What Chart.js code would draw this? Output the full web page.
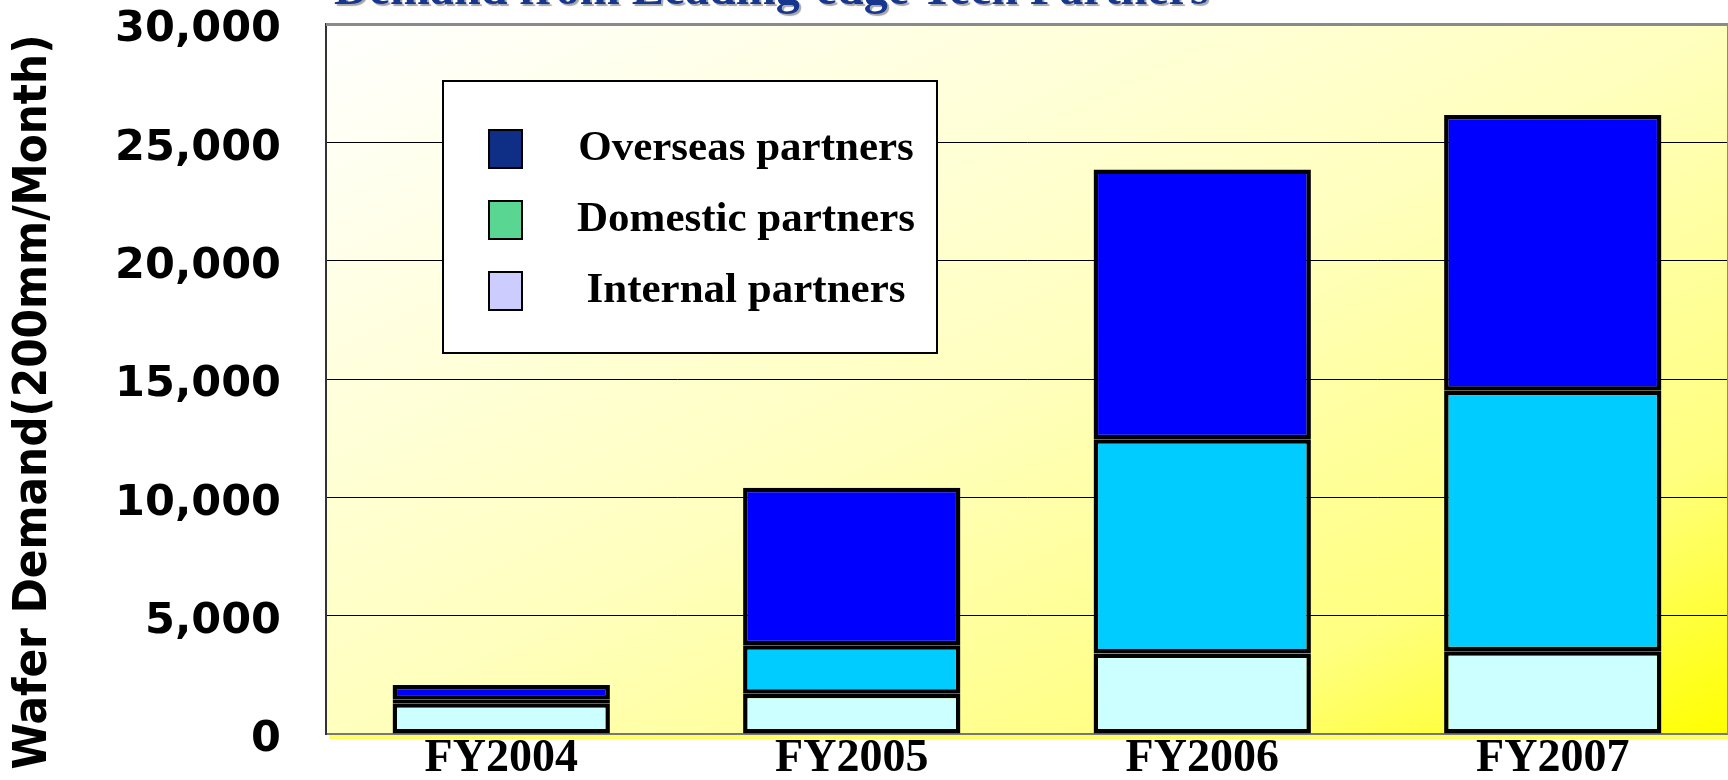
<!DOCTYPE html>
<html>
<head>
<meta charset="utf-8">
<script src="https://cdn.jsdelivr.net/npm/chart.js@4.4.1/dist/chart.umd.min.js"></script>
<style>
html,body{margin:0;padding:0;background:#fff;}
#wrap{width:1728px;height:780px;position:relative;}
</style>
</head>
<body>
<div id="wrap"><canvas id="c" width="1728" height="780"></canvas></div>
<script>
// ---- data ----
const categories = ['FY2004', 'FY2005', 'FY2006', 'FY2007'];
const internalPartners = [1300, 1700, 3400, 3500];
const domesticPartners = [150, 2050, 9050, 11000];
const overseasPartners = [620, 6650, 11400, 11650];
const yTickValues = [0, 5000, 10000, 15000, 20000, 25000, 30000];
const legendNames = ['Overseas partners', 'Domestic partners', 'Internal partners'];
const legendSwatches = ['#0F2F86', '#5AD693', '#CCCCFF'];
const chartTitle = 'Demand from Leading-edge Tech Partners';
const yAxisTitle = 'Wafer Demand(200mm/Month)';

// ---- plugins (layout / decoration only) ----
const decor = {
  id: 'decor',
  afterLayout(chart) {
    const lg = chart.legend;
    if (lg) {
      lg.left = 461; lg.right = 948.5; lg.top = 99.5; lg.bottom = 354;
      lg.width = lg.right - lg.left; lg.height = lg.bottom - lg.top;
      if (!lg._wrapped) {
        const orig = lg.draw.bind(lg);
        lg.draw = function () {
          const ctx = chart.ctx;
          ctx.save();
          ctx.fillStyle = '#FFFFFF';
          ctx.fillRect(442, 80, 496, 274);
          ctx.strokeStyle = '#000000';
          ctx.lineWidth = 2;
          ctx.strokeRect(443, 81, 494, 272);
          ctx.restore();
          orig();
        };
        lg._wrapped = true;
      }
    }
    const tb = chart.titleBlock;
    if (tb) {
      tb.left = chart.chartArea.left + 8;
      if (!tb._wrapped) {
        const origT = tb.draw.bind(tb);
        tb.draw = function () {
          const ctx = chart.ctx;
          ctx.save();
          ctx.shadowColor = 'rgba(0,0,0,0.35)';
          ctx.shadowOffsetX = 2;
          ctx.shadowOffsetY = 2;
          ctx.shadowBlur = 1;
          origT();
          ctx.restore();
        };
        tb._wrapped = true;
      }
    }
    const ys = chart.scales.y;
    if (ys && !ys._wrapped) {
      const origTitle = ys.drawTitle.bind(ys);
      ys.drawTitle = function () {
        const ctx = chart.ctx;
        ctx.save();
        ctx.translate(0, 23);
        origTitle();
        ctx.restore();
      };
      ys._wrapped = true;
    }
  },
  beforeDraw(chart) {
    const {ctx, chartArea: a} = chart;
    const w = a.right - a.left, h = a.bottom - a.top;
    const len = Math.sqrt(h * h + w * w);
    const proj = (w * h + h * w) / len;
    const ex = a.left + (h / len) * proj, ey = a.top + (w / len) * proj;
    const g = ctx.createLinearGradient(a.left, a.top, ex, ey);
    g.addColorStop(0, '#FFFFFF');
    g.addColorStop(0.5, '#FFFFBE');
    g.addColorStop(0.8, '#FFFF80');
    g.addColorStop(1, '#FFFF00');
    ctx.save();
    ctx.fillStyle = '#FFFF60';
    ctx.fillRect(a.left + 3, a.bottom, w, 5);
    ctx.fillStyle = g;
    ctx.fillRect(a.left, a.top, w, h);
    ctx.restore();
  },
  afterDatasetsDraw(chart) {
    const {ctx, chartArea: a} = chart;
    ctx.save();
    ctx.strokeStyle = '#8A8A8A';
    ctx.lineWidth = 3;
    ctx.beginPath();
    ctx.moveTo(a.left, a.top + 0.5);
    ctx.lineTo(a.right, a.top + 0.5);
    ctx.stroke();
    ctx.lineWidth = 2;
    ctx.beginPath();
    ctx.moveTo(a.right, a.top);
    ctx.lineTo(a.right, a.bottom);
    ctx.stroke();
    ctx.restore();
  }
};

const barStyle = {borderColor: '#000000', borderWidth: 4.5, borderSkipped: false, barPercentage: 0.62, categoryPercentage: 1.0};

new Chart(document.getElementById('c'), {
  type: 'bar',
  data: {
    labels: categories,
    datasets: [
      Object.assign({label: 'Internal partners', data: internalPartners, backgroundColor: '#CCFFFF'}, barStyle),
      Object.assign({label: 'Domestic partners', data: domesticPartners, backgroundColor: '#00CCFF'}, barStyle),
      Object.assign({label: 'Overseas partners', data: overseasPartners, backgroundColor: '#0000FF'}, barStyle)
    ]
  },
  options: {
    responsive: false,
    devicePixelRatio: 1,
    animation: false,
    layout: {padding: 0},
    plugins: {
      title: {
        display: true,
        text: chartTitle,
        fullSize: false,
        align: 'start',
        color: '#17378F',
        font: {family: '"Liberation Serif", "Times New Roman", serif', size: 48, weight: 'bold', lineHeight: 1.2},
        padding: {top: -36.8, bottom: 3.2}
      },
      legend: {
        display: true,
        position: 'chartArea',
        align: 'start',
        labels: {
          boxWidth: 33,
          boxHeight: 38,
          padding: 28,
          color: '#000000',
          font: {family: '"Liberation Serif", "Times New Roman", serif', size: 43, weight: 'bold'},
          generateLabels: () => legendNames.map((t, i) => ({
            text: t, fillStyle: legendSwatches[i], strokeStyle: '#000000', lineWidth: 2,
            hidden: false, datasetIndex: 2 - i, textAlign: 'center', fontColor: '#000000'
          }))
        }
      },
      tooltip: {enabled: false}
    },
    scales: {
      x: {
        stacked: true,
        grid: {display: false, drawTicks: false},
        border: {display: true, color: '#777777', width: 2},
        ticks: {
          color: '#000000', padding: 0, maxRotation: 0, autoSkip: false,
          font: {family: '"Liberation Serif", "Times New Roman", serif', size: 46, weight: 'bold', lineHeight: 1.1}
        },
        afterFit: (s) => { s.height = 46; }
      },
      y: {
        stacked: true,
        min: 0,
        max: 30000,
        afterBuildTicks: (s) => { s.ticks = yTickValues.map(v => ({value: v})); },
        grid: {color: '#000000', lineWidth: 1, drawTicks: true, tickLength: 45, tickColor: 'rgba(0,0,0,0)'},
        border: {display: true, color: '#333333', width: 2},
        ticks: {
          color: '#000000', padding: 0, labelOffset: 6,
          font: {family: '"DejaVu Sans", sans-serif', size: 43, weight: 'bold', lineHeight: 1},
          callback: (v) => Number(v).toLocaleString('en-US')
        },
        title: {
          display: true,
          text: yAxisTitle,
          color: '#000000',
          padding: {top: 6, bottom: 0},
          font: {family: '"DejaVu Sans Condensed", "DejaVu Sans", sans-serif', size: 47, weight: 'bold', lineHeight: 1.2}
        },
        afterFit: (s) => { s.width = 326; }
      }
    }
  },
  plugins: [decor]
});
</script>
</body>
</html>
